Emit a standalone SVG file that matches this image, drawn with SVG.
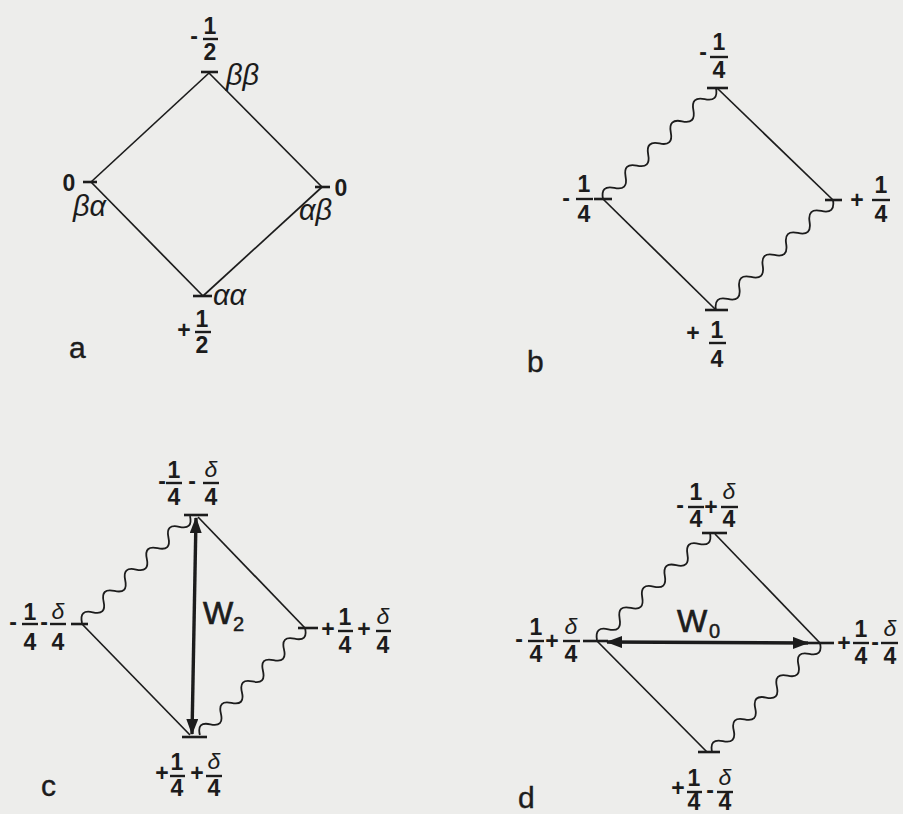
<svg xmlns="http://www.w3.org/2000/svg" width="903" height="814" viewBox="0 0 903 814">
<style>
.bg{fill:#ededeb}
.ln{stroke:#1c1c1c;stroke-width:1.7;fill:none}
.wv{stroke:#1c1c1c;stroke-width:1.8;fill:none}
.tk{stroke:#1c1c1c;stroke-width:2.6;fill:none}
.br{stroke:#1c1c1c;stroke-width:2.4;fill:none}
.ar{stroke:#1c1c1c;stroke-width:3.4;fill:none}
.n{font-family:"Liberation Sans",Arial,sans-serif;font-weight:bold;font-size:23px;fill:#1c1c1c;text-anchor:middle}
.d{font-family:"Liberation Sans",Arial,sans-serif;font-style:italic;font-size:23px;fill:#1c1c1c;text-anchor:middle}
.g{font-family:"Liberation Sans",Arial,sans-serif;font-style:italic;font-size:29px;fill:#1c1c1c}
.lb{font-family:"Liberation Sans",Arial,sans-serif;font-size:30px;fill:#1c1c1c;stroke:#1c1c1c;stroke-width:0.4}
.w{font-family:"Liberation Sans",Arial,sans-serif;font-size:32px;fill:#1c1c1c;stroke:#1c1c1c;stroke-width:0.7}
.ws{font-family:"Liberation Sans",Arial,sans-serif;font-size:20px;fill:#1c1c1c;stroke:#1c1c1c;stroke-width:0.5}
</style>
<defs>
<marker id="ah" viewBox="0 0 16 12" refX="15" refY="6" markerWidth="16" markerHeight="12" markerUnits="userSpaceOnUse" orient="auto-start-reverse">
<path d="M0,0 L16,6 L0,12 Z" fill="#1c1c1c"/>
</marker>
</defs>
<rect class="bg" x="0" y="0" width="903" height="814"/>

<g id="connectors">
<!-- a -->
<line class="ln" x1="209" y1="73" x2="91" y2="182"/>
<line class="ln" x1="209" y1="73" x2="322" y2="187"/>
<line class="ln" x1="91" y1="182" x2="203" y2="296"/>
<line class="ln" x1="322" y1="187" x2="203" y2="296"/>
<!-- b -->
<line class="ln" x1="717" y1="88" x2="833" y2="200"/>
<line class="ln" x1="603" y1="199" x2="715" y2="309"/>
<path class="wv" transform="translate(603,199) rotate(-44.5)" d="M0,0 q7.92,-12 15.84,0 t15.84,0 t15.84,0 t15.84,0 t15.84,0 t15.84,0 t15.84,0 t15.84,0 t15.84,0 t15.84,0"/>
<path class="wv" transform="translate(833,200) rotate(136.8)" d="M0,0 q8.03,-12 16.06,0 t16.06,0 t16.06,0 t16.06,0 t16.06,0 t16.06,0 t16.06,0 t16.06,0 t16.06,0 t16.06,0"/>
<!-- c -->
<line class="ln" x1="198" y1="517" x2="305" y2="628"/>
<line class="ln" x1="82" y1="624" x2="190" y2="735"/>
<path class="wv" transform="translate(82,623) rotate(-44.7)" d="M0,0 q7.6,-12 15.2,0 t15.2,0 t15.2,0 t15.2,0 t15.2,0 t15.2,0 t15.2,0 t15.2,0 t15.2,0 t15.2,0"/>
<path class="wv" transform="translate(305,628) rotate(134.5)" d="M0,0 q7.5,-12 15,0 t15,0 t15,0 t15,0 t15,0 t15,0 t15,0 t15,0 t15,0 t15,0"/>
<line class="ar" x1="196" y1="518" x2="192" y2="734" marker-start="url(#ah)" marker-end="url(#ah)"/>
<!-- d -->
<line class="ln" x1="715" y1="534" x2="820" y2="643"/>
<line class="ln" x1="597" y1="641" x2="707" y2="752"/>
<path class="wv" transform="translate(597,640) rotate(-43.4)" d="M0,0 q7.78,-12 15.56,0 t15.56,0 t15.56,0 t15.56,0 t15.56,0 t15.56,0 t15.56,0 t15.56,0 t15.56,0 t15.56,0"/>
<path class="wv" transform="translate(820,643) rotate(134.7)" d="M0,0 q7.67,-12 15.34,0 t15.34,0 t15.34,0 t15.34,0 t15.34,0 t15.34,0 t15.34,0 t15.34,0 t15.34,0 t15.34,0"/>
<line class="ar" x1="607" y1="642" x2="808" y2="643" marker-start="url(#ah)" marker-end="url(#ah)"/>
</g>

<!-- Panel a -->
<g id="a-top">
<line class="tk" x1="201" y1="72" x2="218" y2="72"/>
<text class="n" x="194" y="44">-</text>
<text class="n" x="210" y="34">1</text>
<line class="br" x1="203" y1="39" x2="218" y2="39"/>
<text class="n" x="210" y="60">2</text>
<text class="g" x="226" y="85">ββ</text>
</g>
<g id="a-left">
<line class="tk" x1="83" y1="182" x2="97" y2="182"/>
<text class="n" x="69" y="191">0</text>
<text class="g" x="73" y="216">βα</text>
</g>
<g id="a-right">
<line class="tk" x1="315" y1="187" x2="330" y2="187"/>
<text class="n" x="341" y="196">0</text>
<text class="g" x="299" y="220">αβ</text>
</g>
<g id="a-bottom">
<line class="tk" x1="193" y1="296" x2="212" y2="296"/>
<text class="g" x="213" y="305">αα</text>
<text class="n" x="184" y="338">+</text>
<text class="n" x="202" y="327">1</text>
<line class="br" x1="195" y1="332" x2="211" y2="332"/>
<text class="n" x="202" y="353">2</text>
</g>
<text class="lb" x="69" y="358">a</text>

<!-- Panel b -->
<g id="b-top">
<line class="tk" x1="707" y1="88" x2="728" y2="88"/>
<text class="n" x="703" y="60">-</text>
<text class="n" x="719" y="50">1</text>
<line class="br" x1="710" y1="57" x2="728" y2="57"/>
<text class="n" x="719" y="78">4</text>
</g>
<g id="b-left">
<line class="tk" x1="594" y1="199" x2="612" y2="199"/>
<text class="n" x="566" y="206">-</text>
<text class="n" x="584" y="192">1</text>
<line class="br" x1="576" y1="199" x2="593" y2="199"/>
<text class="n" x="584" y="222">4</text>
</g>
<g id="b-right">
<line class="tk" x1="825" y1="200" x2="842" y2="200"/>
<text class="n" x="857" y="208">+</text>
<text class="n" x="881" y="193">1</text>
<line class="br" x1="872" y1="200" x2="890" y2="200"/>
<text class="n" x="881" y="222">4</text>
</g>
<g id="b-bottom">
<line class="tk" x1="705" y1="310" x2="728" y2="310"/>
<text class="n" x="693" y="341">+</text>
<text class="n" x="717" y="338">1</text>
<line class="br" x1="709" y1="343" x2="726" y2="343"/>
<text class="n" x="717" y="367">4</text>
</g>
<text class="lb" x="527" y="372">b</text>

<!-- Panel c -->
<g id="c-top">
<line class="tk" x1="184" y1="515" x2="208" y2="515"/>
<text class="n" x="162" y="489">-</text>
<text class="n" x="174" y="478">1</text>
<line class="br" x1="166" y1="483" x2="182" y2="483"/>
<text class="n" x="174" y="505">4</text>
<text class="n" x="192" y="489">-</text>
<text class="d" x="211" y="477">δ</text>
<line class="br" x1="203" y1="483" x2="219" y2="483"/>
<text class="n" x="211" y="505">4</text>
</g>
<g id="c-left">
<line class="tk" x1="71" y1="624" x2="88" y2="624"/>
<text class="n" x="13" y="630">-</text>
<text class="n" x="30" y="620">1</text>
<line class="br" x1="22" y1="624" x2="38" y2="624"/>
<text class="n" x="30" y="650">4</text>
<text class="n" x="44" y="630">-</text>
<text class="d" x="58" y="619">δ</text>
<line class="br" x1="50" y1="624" x2="66" y2="624"/>
<text class="n" x="58" y="650">4</text>
</g>
<g id="c-right">
<line class="tk" x1="298" y1="628" x2="318" y2="628"/>
<text class="n" x="328" y="637">+</text>
<text class="n" x="345" y="625">1</text>
<line class="br" x1="338" y1="631" x2="353" y2="631"/>
<text class="n" x="345" y="653">4</text>
<text class="n" x="364" y="637">+</text>
<text class="d" x="383" y="624">δ</text>
<line class="br" x1="376" y1="631" x2="391" y2="631"/>
<text class="n" x="383" y="653">4</text>
</g>
<g id="c-bottom">
<line class="tk" x1="182" y1="737" x2="207" y2="737"/>
<text class="n" x="162" y="781">+</text>
<text class="n" x="177" y="770">1</text>
<line class="br" x1="170" y1="776" x2="185" y2="776"/>
<text class="n" x="177" y="796">4</text>
<text class="n" x="197" y="781">+</text>
<text class="d" x="214" y="769">δ</text>
<line class="br" x1="206" y1="776" x2="222" y2="776"/>
<text class="n" x="214" y="796">4</text>
</g>
<g id="c-W2">
<text class="w" x="203" y="624">W</text>
<text class="ws" x="233" y="631">2</text>
</g>
<text class="lb" x="41" y="796">c</text>

<!-- Panel d -->
<g id="d-top">
<line class="tk" x1="702" y1="533" x2="727" y2="533"/>
<text class="n" x="680" y="513">-</text>
<text class="n" x="696" y="500">1</text>
<line class="br" x1="688" y1="507" x2="704" y2="507"/>
<text class="n" x="696" y="527">4</text>
<text class="n" x="711" y="515">+</text>
<text class="d" x="729" y="499">δ</text>
<line class="br" x1="721" y1="507" x2="738" y2="507"/>
<text class="n" x="729" y="527">4</text>
</g>
<g id="d-left">
<line class="tk" x1="583" y1="641" x2="608" y2="641"/>
<text class="n" x="519" y="647">-</text>
<text class="n" x="536" y="635">1</text>
<line class="br" x1="528" y1="641" x2="544" y2="641"/>
<text class="n" x="536" y="662">4</text>
<text class="n" x="552" y="649">+</text>
<text class="d" x="571" y="634">δ</text>
<line class="br" x1="563" y1="641" x2="580" y2="641"/>
<text class="n" x="571" y="662">4</text>
</g>
<g id="d-right">
<line class="tk" x1="808" y1="643" x2="834" y2="643"/>
<text class="n" x="844" y="651">+</text>
<text class="n" x="861" y="637">1</text>
<line class="br" x1="853" y1="643" x2="869" y2="643"/>
<text class="n" x="861" y="664">4</text>
<text class="n" x="875" y="650">-</text>
<text class="d" x="890" y="636">δ</text>
<line class="br" x1="881" y1="643" x2="898" y2="643"/>
<text class="n" x="890" y="664">4</text>
</g>
<g id="d-bottom">
<line class="tk" x1="698" y1="752" x2="720" y2="752"/>
<text class="n" x="678" y="796">+</text>
<text class="n" x="694" y="786">1</text>
<line class="br" x1="687" y1="792" x2="702" y2="792"/>
<text class="n" x="694" y="810">4</text>
<text class="n" x="710" y="798">-</text>
<text class="d" x="725" y="785">δ</text>
<line class="br" x1="717" y1="792" x2="733" y2="792"/>
<text class="n" x="725" y="810">4</text>
</g>
<g id="d-W0">
<text class="w" x="677" y="632">W</text>
<text class="ws" x="709" y="638">0</text>
</g>
<text class="lb" x="518" y="808">d</text>
</svg>
